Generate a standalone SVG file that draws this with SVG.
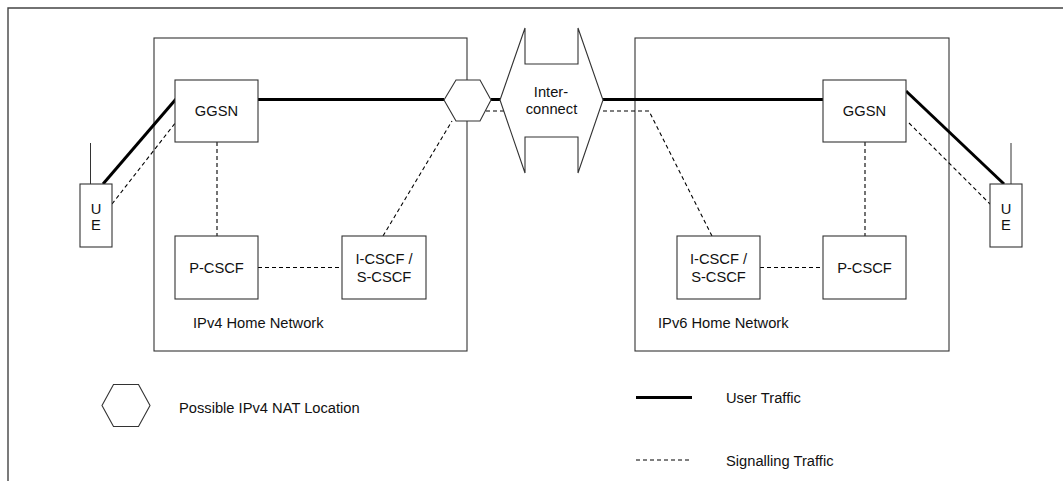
<svg xmlns="http://www.w3.org/2000/svg" width="1063" height="481" viewBox="0 0 1063 481">
<style>
  text { font-family: "Liberation Sans", Arial, sans-serif; font-size: 14.7px; fill: #111; }
  .mid { text-anchor: middle; }
  .box { fill: #fff; stroke: #333; stroke-width: 1.1; }
  .net { fill: none; stroke: #333; stroke-width: 1.1; }
  .frame { fill: none; stroke: #444; stroke-width: 1.4; }
  .thick { fill: none; stroke: #000; stroke-width: 3; }
  .dash { fill: none; stroke: #000; stroke-width: 1.1; stroke-dasharray: 4 3; }
  .thin { fill: none; stroke: #333; stroke-width: 1; }
</style>
<rect width="1063" height="481" fill="#fff"/>
<path class="frame" d="M8,481 L8,8 L1063,8"/>

<g id="ipv4-network">
  <rect class="net" x="154" y="38" width="313" height="313"/>
  <text x="193" y="328">IPv4 Home Network</text>
</g>
<g id="ipv6-network">
  <rect class="net" x="635" y="38" width="314" height="313"/>
  <text x="658" y="328">IPv6 Home Network</text>
</g>

<g id="connectors">
  <path class="thick" d="M103,184 L176,99"/>
  <path class="dash" d="M112,204 L176,122"/>
  <path class="dash" d="M217,142 L217,236"/>
  <path class="dash" d="M258,267.5 L342,267.5"/>
  <path class="dash" d="M383,236 L452,121"/>
  <path class="thick" d="M258,99.5 L444,99.5"/>
  <path class="thick" d="M491,99.5 L500,99.5"/>
  <path class="dash" d="M486,111 L504,111"/>
  <path class="thick" d="M603,99.5 L823,99.5"/>
  <path class="dash" d="M603,111 L649,111 L712,236"/>
  <path class="dash" d="M760,267.5 L823,267.5"/>
  <path class="dash" d="M865,142 L865,236"/>
  <path class="thick" d="M906,91 L1004,184"/>
  <path class="dash" d="M909,123 L990,204"/>
</g>

<g id="ue-left">
  <path class="thin" d="M90.5,143 L90.5,184"/>
  <rect class="box" x="80" y="184" width="32" height="63"/>
  <text class="mid" x="96" y="214">U</text>
  <text class="mid" x="96" y="230">E</text>
</g>
<g id="ggsn-left">
  <rect class="box" x="175" y="80" width="83" height="62"/>
  <text class="mid" x="216.5" y="116">GGSN</text>
</g>
<g id="pcscf-left">
  <rect class="box" x="175" y="236" width="83" height="63"/>
  <text class="mid" x="216.5" y="272.5">P-CSCF</text>
</g>
<g id="icscf-left">
  <rect class="box" x="342" y="236" width="84" height="63"/>
  <text class="mid" x="384" y="263.5">I-CSCF /</text>
  <text class="mid" x="384" y="281.5">S-CSCF</text>
</g>
<g id="nat-hexagon">
  <polygon class="box" points="444,100 456,80 480,80 491,100 480,121 456,121"/>
</g>
<g id="interconnect">
  <path class="box" d="M525,28 L500,100 L525,173 L525,137 L578,137 L578,173 L603,100 L578,28 L578,64 L525,64 Z"/>
  <text class="mid" x="551" y="96.5">Inter-</text>
  <text class="mid" x="551.5" y="113.5">connect</text>
</g>
<g id="ggsn-right">
  <rect class="box" x="823" y="80" width="83" height="62"/>
  <text class="mid" x="864.5" y="116">GGSN</text>
</g>
<g id="icscf-right">
  <rect class="box" x="677" y="236" width="83" height="63"/>
  <text class="mid" x="718.5" y="263.5">I-CSCF /</text>
  <text class="mid" x="718.5" y="281.5">S-CSCF</text>
</g>
<g id="pcscf-right">
  <rect class="box" x="823" y="236" width="83" height="63"/>
  <text class="mid" x="864.5" y="272.5">P-CSCF</text>
</g>
<g id="ue-right">
  <path class="thin" d="M1011,143 L1011,184"/>
  <rect class="box" x="990" y="184" width="32" height="63"/>
  <text class="mid" x="1006" y="214">U</text>
  <text class="mid" x="1006" y="230">E</text>
</g>

<g id="legend">
  <polygon class="box" points="102,405.5 113.5,384.5 138.5,384.5 150,405.5 138.5,426.5 113.5,426.5"/>
  <text x="179" y="413">Possible IPv4 NAT Location</text>
  <path class="thick" d="M636,397.5 L692,397.5"/>
  <text x="726" y="402.5">User Traffic</text>
  <path class="dash" d="M636,460 L692,460" stroke-dasharray="5 3.5"/>
  <text x="726" y="465.5">Signalling Traffic</text>
</g>
</svg>
